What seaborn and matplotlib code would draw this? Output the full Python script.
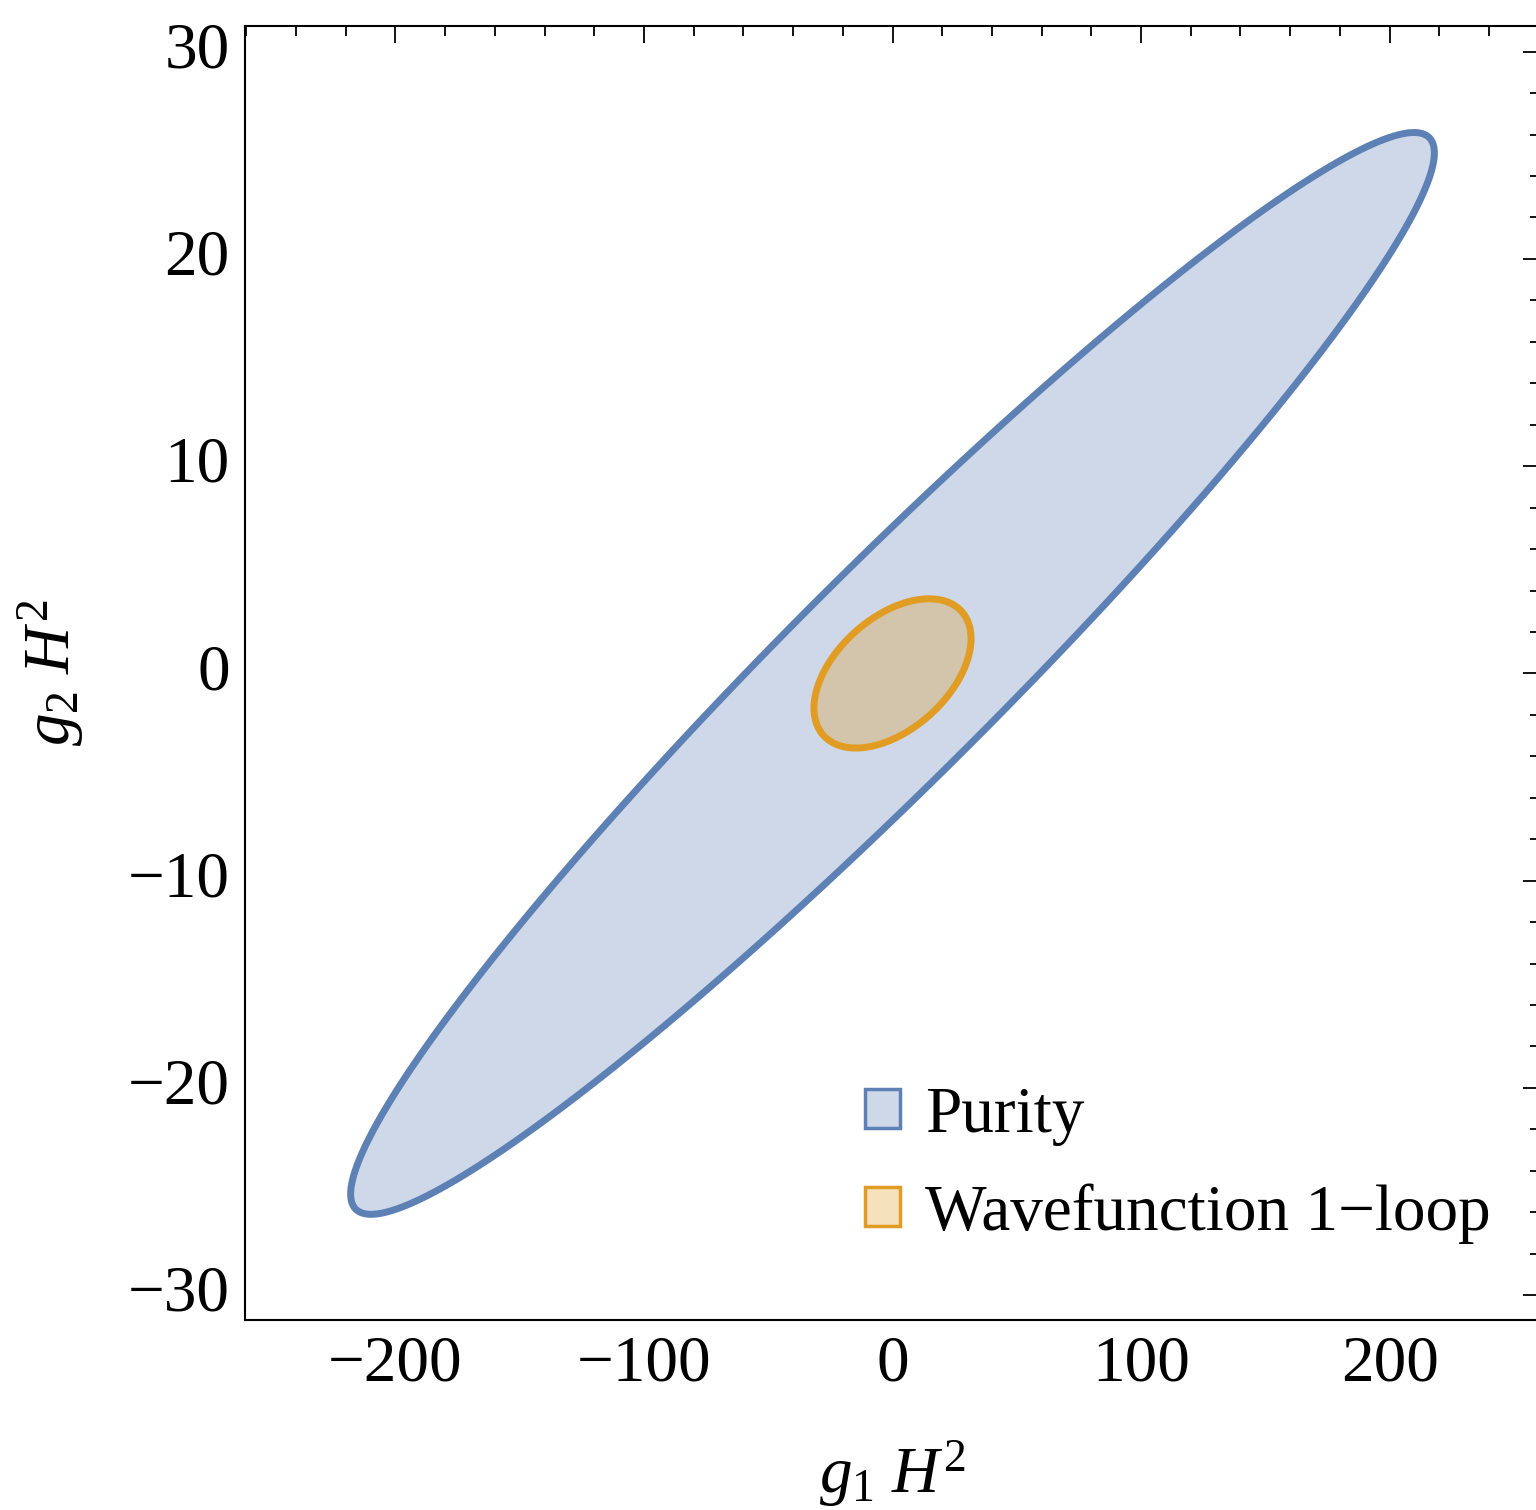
import matplotlib
matplotlib.use('Agg')
import matplotlib.pyplot as plt
from matplotlib.patches import Patch
from matplotlib.ticker import MultipleLocator
import numpy as np
import seaborn as sns

# regions (allowed parameter space)
regions = ['Purity', 'Wavefunction 1\u2212loop']
colors = ['#5E81B5', '#E19C24']
x_extent = [218.0, 31.6]     # max |g1 H^2| on the boundary
y_extent = [26.1, 3.6]       # max |g2 H^2| on the boundary
xy_cov = [5476.0, 53.0]      # mixed term of the boundary ellipse
centers_x = [0.0, 0.0]
centers_y = [0.0, 0.0]

x_ticks = [-200, -100, 0, 100, 200]
y_ticks = [-30, -20, -10, 0, 10, 20, 30]

sns.set_theme(style='white')
plt.rcParams['font.family'] = ['Liberation Serif', 'DejaVu Serif']
plt.rcParams['mathtext.fontset'] = 'custom'
plt.rcParams['mathtext.rm'] = 'Liberation Serif'
plt.rcParams['mathtext.it'] = 'Liberation Serif:italic'
plt.rcParams['axes.unicode_minus'] = True
plt.rcParams['text.color'] = 'black'
plt.rcParams['axes.labelcolor'] = 'black'

fig = plt.figure(figsize=(15.36, 15.10), dpi=100)
ax = fig.add_axes([245 / 1536, 1 - 1320 / 1510, (1540 - 245) / 1536, (1320 - 26) / 1510])

gx = np.linspace(-262, 262, 900)
gy = np.linspace(-32, 32, 900)
X, Y = np.meshgrid(gx, gy)

pal = sns.color_palette(colors)
for i, name in enumerate(regions):
    s11 = x_extent[i] ** 2
    s22 = y_extent[i] ** 2
    s12 = xy_cov[i]
    det = s11 * s22 - s12 ** 2
    dx = X - centers_x[i]
    dy = Y - centers_y[i]
    Q = (s22 * dx ** 2 - 2 * s12 * dx * dy + s11 * dy ** 2) / det
    ax.contourf(X, Y, Q, levels=[-1, 1], colors=[pal[i]], alpha=0.3)
    ax.contour(X, Y, Q, levels=[1], colors=[pal[i]], linewidths=5)

ax.set_xlim(-260.5, 260.5)
ax.set_ylim(-31.2, 31.24)
ax.set_xticks(x_ticks)
ax.set_yticks(y_ticks)
ax.xaxis.set_minor_locator(MultipleLocator(20))
ax.yaxis.set_minor_locator(MultipleLocator(2))
ax.tick_params(which='both', direction='in', top=True, right=True, width=1.3,
               color='black', labelsize=47, pad=11, labelcolor='black')
ax.tick_params(which='major', length=12.5)
ax.tick_params(which='minor', length=7.5)
for lab in ax.get_yticklabels():
    lab.set_verticalalignment('center')
for sp in ax.spines.values():
    sp.set_color('black')
    sp.set_linewidth(1.5)

ax.set_xlabel(r'$g_1\ H^2$', fontsize=47, labelpad=31)
ax.set_ylabel(r'$g_2\ H^2$', fontsize=47, labelpad=30)

handles = [Patch(facecolor=matplotlib.colors.to_rgba(c, 0.3), edgecolor=c, linewidth=2.5)
           for c in colors]
leg = ax.legend(handles, regions, loc='upper left', bbox_to_anchor=(865 / 1536, 1 - 1086 / 1510),
                bbox_transform=fig.transFigure, frameon=False, fontsize=47, borderpad=0,
                borderaxespad=0, handlelength=0.54, handleheight=0.54, handletextpad=0.38,
                labelspacing=0.58)
for t in leg.get_texts():
    t.set_color('black')

plt.savefig('out.png', dpi=100)
